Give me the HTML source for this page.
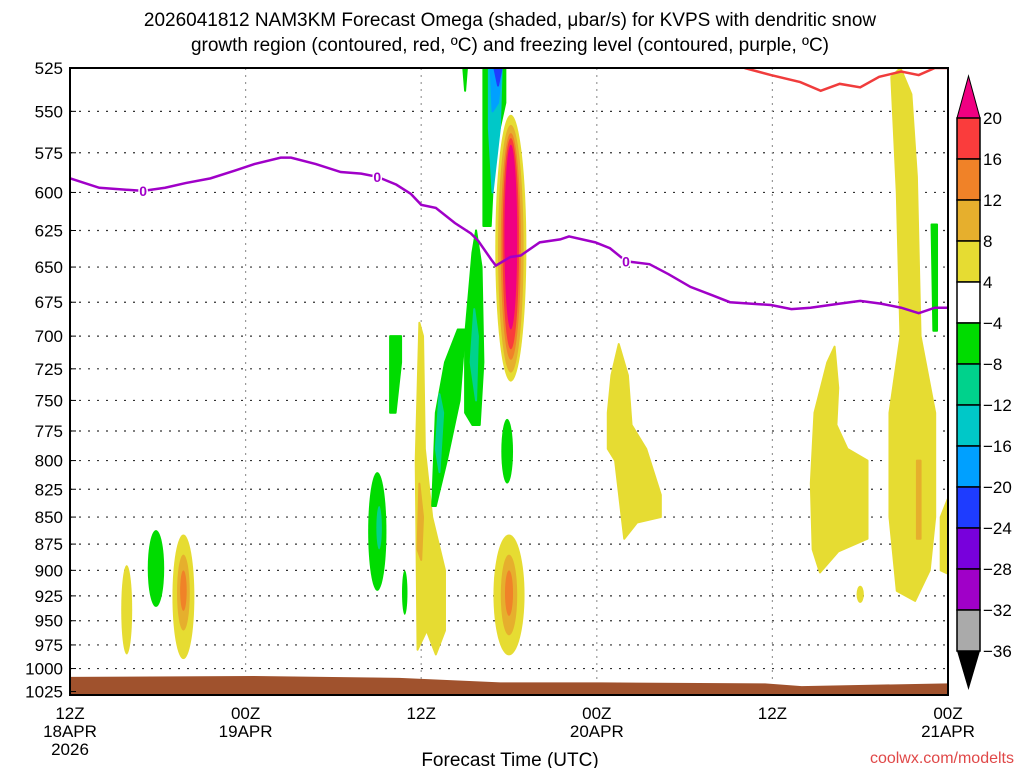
<!DOCTYPE html>
<html><head><meta charset="utf-8"><style>
body{margin:0;background:#fff;width:1024px;height:768px;overflow:hidden}
svg{display:block}
text{font-family:"Liberation Sans",sans-serif;fill:#000}
</style></head><body>
<svg id="chart" width="1024" height="768" viewBox="0 0 1024 768" xmlns="http://www.w3.org/2000/svg">
<text x="510" y="26" font-size="19" text-anchor="middle">2026041812 NAM3KM Forecast Omega (shaded, μbar/s) for KVPS with dendritic snow</text>
<text x="510" y="51" font-size="19" text-anchor="middle">growth region (contoured, red, ºC) and freezing level (contoured, purple, ºC)</text>
<defs><clipPath id="pc"><rect x="70" y="68" width="878" height="627"/></clipPath></defs>
<g id="grid"></g>
<g id="shade" clip-path="url(#pc)"></g>
<g id="lines" clip-path="url(#pc)"></g>
<rect x="70" y="68" width="878" height="627" fill="none" stroke="#000" stroke-width="2"/>
<g id="axes"></g>
<g id="cbar"></g>
<text x="510" y="766" font-size="19" text-anchor="middle">Forecast Time (UTC)</text>
<text x="1014" y="763" font-size="16" text-anchor="end" style="fill:#e04848">coolwx.com/modelts</text>
</svg>
<script>
const pressureTicks=[525,550,575,600,625,650,675,700,725,750,775,800,825,850,875,900,925,950,975,1000,1025];
const timeTickHours=[0,12,24,36,48,60];
const timeTickLabels=[["12Z","18APR","2026"],["00Z","19APR"],["12Z"],["00Z","20APR"],["12Z"],["00Z","21APR"]];
const frzHours=[0,2,5,6.5,7.9,9.6,11.3,12.6,14.4,15.1,16.8,18.5,19.9,21,22.3,23.3,24,25,26.3,27.4,27.9,28.8,29.1,30.1,30.8,32.1,33.5,34.1,35.9,36.9,38,39.6,40.9,42.4,43.9,45.1,47.9,49.3,50.6,52.6,54,55.4,56.8,58,59.1,60];
const frzPres=[591,597,599,597,594,591,586,582,578,578,582,587,588,590,595,601,608,610,620,627,632,645,649,643,642,633,631,629,633,637,646,648,655,664,670,675,677,680,679,676,674,676,679,683,679,679];
const dgzHours=[46.1,47.9,49.9,51.3,52.6,54,55.3,56.8,58,59.1,60];
const dgzPres=[525,529,533,538,534,536,530,527,529,525,525];
const groundHours=[0,12.5,22.5,29.4,36.3,47.5,50,60];
const groundPres=[1009,1008,1010,1015,1015,1016,1019,1016];
const cbLevels=["20","16","12","8","4","−4","−8","−12","−16","−20","−24","−28","−32","−36"];
const cbColors=["#fa3c3c","#f08228","#e6af2d","#e6dc32","#ffffff","#00dc00","#00d28c","#00c8c8","#00a0ff","#1e3cff","#7800dc","#a000c8","#aaaaaa"];
// shaded omega features, outlines given in 48-step plot units (1 unit = 1.25 h)
const Y1="#e6dc32",OR1="#e6af2d",OR2="#f08228",RD="#fa3c3c",MG="#f00082",GR="#00dc00",TL="#00d28c",CY="#00c8c8",LB="#00a0ff",BL="#1e3cff";
const ellipses=[
[Y1,3.1,0.3,895,985],[Y1,6.2,0.6,866,990],[OR1,6.2,0.35,885,960],[OR2,6.2,0.18,900,940],
[Y1,24.0,0.85,866,986],[OR1,24.0,0.45,885,965],[OR2,24.0,0.22,900,945],
[Y1,24.1,0.85,552,735],[OR1,24.1,0.7,558,728],[OR2,24.1,0.55,563,718],[RD,24.1,0.45,566,710],[MG,24.1,0.35,570,695],
[GR,4.7,0.45,862,936],[GR,16.8,0.5,810,920],[TL,16.9,0.15,840,880],[GR,18.3,0.15,900,944],[GR,23.9,0.32,765,820],
[OR1,46.4,0.25,805,870],[Y1,43.2,0.2,915,932]];
const polys=[
[Y1,[[19.0,980],[18.9,800],[19.1,690],[19.3,700],[19.4,790],[19.8,850],[20.5,900],[20.5,960],[20.0,985],[19.5,960]]],
[OR1,[[19.0,880],[19.1,820],[19.3,850],[19.2,890]]],
[Y1,[[29.4,760],[29.6,730],[30.0,706],[30.5,730],[30.7,770],[31.5,790],[32.3,830],[32.3,850],[31.0,855],[30.3,870],[29.8,800],[29.4,790]]],
[Y1,[[40.5,820],[40.7,760],[41.4,720],[41.8,708],[42.0,740],[41.9,770],[42.5,790],[43.6,800],[43.6,870],[42.0,882],[41.0,902],[40.6,880]]],
[Y1,[[44.9,530],[45.4,525],[46.0,540],[46.3,590],[46.5,700],[47.3,760],[47.3,850],[47.0,900],[46.2,930],[45.2,920],[44.8,850],[44.8,760],[45.4,700],[45.2,600]]],
[OR1,[[46.3,800],[46.5,800],[46.5,870],[46.3,870]]],
[Y1,[[47.6,900],[47.6,850],[48.2,825],[48.2,905]]],
[GR,[[22.6,525],[23.8,525],[23.8,545],[23.2,575],[23.0,622],[22.6,622]]],
[CY,[[22.9,525],[23.6,525],[23.5,560],[23.1,600],[22.9,560]]],
[LB,[[23.0,525],[23.6,525],[23.4,545],[23.1,550]]],
[BL,[[23.2,525],[23.6,525],[23.4,535]]],
[GR,[[21.5,525],[21.7,525],[21.6,538]]],
[GR,[[19.8,840],[20.0,760],[20.5,720],[21.2,695],[21.6,695],[21.3,750],[20.6,800],[20.0,840]]],
[TL,[[20.0,790],[20.2,745],[20.4,760],[20.2,810]]],
[GR,[[21.6,760],[21.6,700],[22.0,640],[22.2,625],[22.5,650],[22.6,720],[22.4,770],[22.0,770]]],
[TL,[[21.9,720],[22.1,680],[22.3,700],[22.2,750]]],
[GR,[[17.5,760],[17.5,700],[18.1,700],[18.1,720],[17.8,760]]],
[GR,[[47.1,621],[47.4,621],[47.4,696],[47.2,696]]]];

const NS="http://www.w3.org/2000/svg";
const X=h=>70+h*878/60;
const XU=u=>70+u*878/48;
const Y=p=>68+932*Math.log(p/525);
function mk(parent,tag,attrs){const e=document.createElementNS(NS,tag);for(const k in attrs)e.setAttribute(k,attrs[k]);document.getElementById(parent).appendChild(e);return e;}

pressureTicks.forEach(p=>{
  const l=mk('grid','line',{x1:70,x2:948,y1:Y(p),y2:Y(p),stroke:'#333','stroke-width':1.2,'stroke-dasharray':'2 7'});
  
  
  const t=mk('axes','text',{x:63,y:Y(p)+6,'font-size':17,'text-anchor':'end'});t.textContent=p;
  
  
  const tk=mk('axes','line',{x1:70,x2:76,y1:Y(p),y2:Y(p),stroke:'#000'});
  
  
});
timeTickHours.forEach((h,i)=>{
  if(i>0&&i<timeTickHours.length-1){
    const l=mk('grid','line',{x1:X(h),x2:X(h),y1:68,y2:695,stroke:'#999','stroke-width':1.2,'stroke-dasharray':'2 5'});
    
    
  }
  timeTickLabels[i].forEach((s,j)=>{const t=mk('axes','text',{x:X(h),y:719+j*18,'font-size':17,'text-anchor':'middle'});t.textContent=s;
    
    });
});

ellipses.forEach(([c,h,w,pt,pb])=>{
  const e=mk('shade','ellipse',{cx:XU(h),rx:w*878/48,cy:(Y(pt)+Y(pb))/2,ry:(Y(pb)-Y(pt))/2,fill:c});
  
  
});
polys.forEach(([c,pts])=>{
  const e=mk('shade','polygon',{points:pts.map(([h,p])=>XU(h)+','+Y(p)).join(' '),fill:c,stroke:c,'stroke-width':2,'stroke-linejoin':'round'});
  
  
});
{const pts=groundHours.map((h,i)=>X(h)+','+Y(groundPres[i]));
 const g=mk('shade','polygon',{points:pts.join(' ')+' 948,700 70,700',fill:'#a0522d'});
 
 }
{const f=mk('lines','polyline',{points:frzHours.map((h,i)=>X(h)+','+Y(frzPres[i])).join(' '),fill:'none',stroke:'#a000c8','stroke-width':2.5});
 
 
 [[5,599],[21,590],[38,646]].forEach(([h,p])=>{
  const t=mk('lines','text',{x:X(h),y:Y(p)+5,'font-size':14,'text-anchor':'middle','font-weight':'bold',style:'fill:#a000c8;stroke:#fff;stroke-width:3px;paint-order:stroke'});t.textContent='0';
  
  });
 const d=mk('lines','polyline',{points:dgzHours.map((h,i)=>X(h)+','+Y(dgzPres[i])).join(' '),fill:'none',stroke:'#f03c3c','stroke-width':2.5});
 
 }
{const top=118,bh=41,x0=957,w=23;
 const tt=mk('cbar','polygon',{points:`${x0},${top} ${x0+w},${top} ${x0+w/2},76`,fill:MG,stroke:'#000'});
 
 cbColors.forEach((c,i)=>{const r=mk('cbar','rect',{x:x0,y:top+i*bh,width:w,height:bh,fill:c,stroke:'#000','stroke-width':1.5});
  
  });
 const bt=mk('cbar','polygon',{points:`${x0},${top+13*bh} ${x0+w},${top+13*bh} ${x0+w/2},690`,fill:'#000'});
 
 cbLevels.forEach((s,i)=>{const t=mk('cbar','text',{x:983,y:top+i*bh+6,'font-size':17});t.textContent=s;
  
  });}
</script>
</body></html>
